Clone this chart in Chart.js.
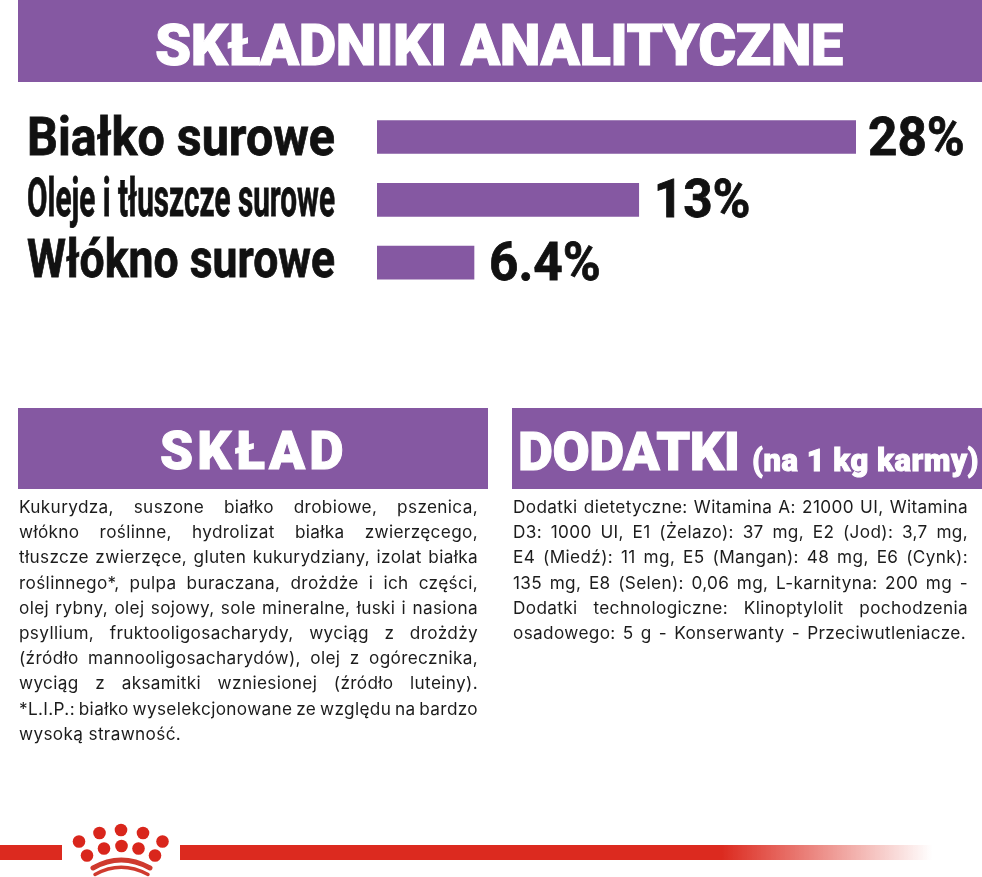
<!DOCTYPE html>
<html lang="pl">
<head>
<meta charset="utf-8">
<title>Składniki analityczne</title>
<script src="https://cdn.jsdelivr.net/npm/chart.js@4"></script>
<style>
html, body { margin: 0; padding: 0; background: #fff; }
#page { position: relative; width: 982px; height: 877px; overflow: hidden; font-family: Roboto, sans-serif; }
.band { position: absolute; background: #8558a2; }
.head { position: absolute; color: #fff; font-weight: 900; white-space: nowrap; line-height: 1; -webkit-text-stroke: 1px #fff; }
.copy { position: absolute; color: #1c1c1c; font-family: Inter, sans-serif; font-size: 17.2px; line-height: 25.2px; letter-spacing: 0.35px; }
.copy div { white-space: nowrap; height: 25.2px; }
.copy span { display: inline-block; }
svg { position: absolute; left: 0; top: 800px; }
</style>
</head>
<body>
<div id="page">
  <canvas id="chart" width="982" height="877" style="position:absolute;left:0;top:0"></canvas>

  <div class="band" style="left:18px;top:0;width:964px;height:82px"></div>
  <div class="head" style="left:155px;top:16px;font-size:58px;letter-spacing:-0.5px">SKŁADNIKI ANALITYCZNE</div>

  <div class="band" style="left:18px;top:408px;width:470px;height:81px"></div>
  <div class="head" style="left:160px;top:425px;font-size:53px;letter-spacing:4px">SKŁAD</div>

  <div class="band" style="left:512px;top:408px;width:470px;height:81px"></div>
  <div class="head" style="left:518px;top:425px;font-size:54px;letter-spacing:-0.5px">DODATKI</div>
  <div class="head" style="left:752px;top:445px;font-size:31px;letter-spacing:0.5px">(na 1 kg karmy)</div>

  <div class="copy" id="sklad" style="left:19px;top:494px"></div>
  <div class="copy" id="dodatki" style="left:513px;top:494px"></div>

  <svg width="982" height="77" viewBox="0 0 982 77">
    <defs>
      <linearGradient id="fade" x1="0" x2="1" y1="0" y2="0">
        <stop offset="0" stop-color="#dc2a1f"/>
        <stop offset="0.72" stop-color="#dc2a1f"/>
        <stop offset="1" stop-color="#dc2a1f" stop-opacity="0"/>
      </linearGradient>
    </defs>
    <rect x="0" y="45" width="62" height="15" fill="#dc2a1f"/>
    <rect x="180" y="45" width="752" height="15" fill="url(#fade)"/>
    <g fill="#d9261c">
      <circle cx="79" cy="41.5" r="6.3"/><circle cx="99.5" cy="33" r="6.3"/><circle cx="121" cy="30" r="6.3"/>
      <circle cx="143" cy="33" r="6.3"/><circle cx="162.5" cy="41.5" r="6.3"/><circle cx="87" cy="55.5" r="6.3"/>
      <circle cx="104" cy="48.5" r="6.3"/><circle cx="121.5" cy="46" r="6.3"/><circle cx="138.5" cy="48.5" r="6.3"/>
      <circle cx="155" cy="55.5" r="6.3"/>
    </g>
    <g fill="none" stroke="#cf3a2e" stroke-linecap="round">
      <path d="M93 68 Q121 52 150 68" stroke-width="5"/>
      <path d="M95 74.5 Q121 60 148 74.5" stroke-width="3.5"/>
    </g>
  </svg>
</div>

<script>
const categories = ['Białko surowe', 'Oleje i tłuszcze surowe', 'Włókno surowe'];
const printedValues = ['28%', '13%', '6.4%'];
// bar lengths as the picture draws them, they are not in proportion to the printed numbers
const barLengths = [28, 15.3, 5.67];

const skladLines = [
    'Kukurydza, suszone białko drobiowe, pszenica,',
    'włókno roślinne, hydrolizat białka zwierzęcego,',
    'tłuszcze zwierzęce, gluten kukurydziany, izolat białka',
    'roślinnego*, pulpa buraczana, drożdże i ich części,',
    'olej rybny, olej sojowy, sole mineralne, łuski i nasiona',
    'psyllium, fruktooligosacharydy, wyciąg z drożdży',
    '(źródło mannooligosacharydów), olej z ogórecznika,',
    'wyciąg z aksamitki wzniesionej (źródło luteiny).',
    '*L.I.P.: białko wyselekcjonowane ze względu na bardzo',
    'wysoką strawność.'
];
const dodatkiLines = [
    'Dodatki dietetyczne: Witamina A: 21000 UI, Witamina',
    'D3: 1000 UI, E1 (Żelazo): 37 mg, E2 (Jod): 3,7 mg,',
    'E4 (Miedź): 11 mg, E5 (Mangan): 48 mg, E6 (Cynk):',
    '135 mg, E8 (Selen): 0,06 mg, L-karnityna: 200 mg -',
    'Dodatki technologiczne: Klinoptylolit pochodzenia',
    'osadowego: 5 g - Konserwanty - Przeciwutleniacze.'
];

// justify by hand, some lines in the picture are squeezed tighter than css justify allows
function fillCopy(id, lines, width, lastWidth) {
    const box = document.getElementById(id);
    lines.forEach(function(line, i) {
        const row = document.createElement('div');
        const span = document.createElement('span');
        span.textContent = line;
        row.appendChild(span);
        box.appendChild(row);
        const wanted = i === lines.length - 1 ? lastWidth : width;
        if (!wanted) return;
        const gaps = line.split(' ').length - 1;
        span.style.wordSpacing = (wanted - span.getBoundingClientRect().width) / gaps + 'px';
    });
}
fillCopy('sklad', skladLines, 459);
fillCopy('dodatki', dodatkiLines, 455, 453);

// the source lettering is condensed, so squeeze the text to a wanted width
function drawSqueezed(c, text, x, y, scaleX) {
    c.save();
    c.translate(x, y);
    c.scale(scaleX, 1);
    c.lineWidth = 0.8;
    c.strokeText(text, 0, 0);
    c.fillText(text, 0, 0);
    c.restore();
}

// category names left of the bars and percentages right of them
const barText = {
    id: 'barText',
    afterDatasetsDraw(chart) {
        const c = chart.ctx;
        const yScale = chart.scales.y;
        c.save();
        c.font = '700 54px Roboto';
        c.fillStyle = '#111';
        c.strokeStyle = '#111';
        c.textAlign = 'left';
        c.textBaseline = 'alphabetic';
        categories.forEach(function(name, i) {
            const y = yScale.getPixelForValue(i) + 17.7 - i * 1.7;
            drawSqueezed(c, name, 27, y, 308 / c.measureText(name).width);
        });
        chart.getDatasetMeta(0).data.forEach(function(bar, i) {
            drawSqueezed(c, printedValues[i], bar.x + (i === 0 ? 12 : 15), bar.y + 17.5, 0.95);
        });
        c.restore();
    }
};

const ctx = document.getElementById('chart').getContext('2d');
const chart = new Chart(ctx, {
    type: 'bar',
    data: {
        labels: categories,
        datasets: [{
            data: barLengths,
            backgroundColor: '#8558a2',
            barThickness: 33
        }]
    },
    options: {
        indexAxis: 'y',
        responsive: false,
        animation: false,
        layout: { padding: { top: 105.6, bottom: 583, right: 126 } },
        plugins: { legend: { display: false }, tooltip: { enabled: false } },
        scales: {
            x: { display: false, min: 0, max: 28 },
            y: {
                afterFit(scale) { scale.width = 377; },
                grid: { display: false, drawTicks: false },
                border: { display: false },
                ticks: { display: false }
            }
        }
    },
    plugins: [barText]
});
</script>
</body>
</html>
